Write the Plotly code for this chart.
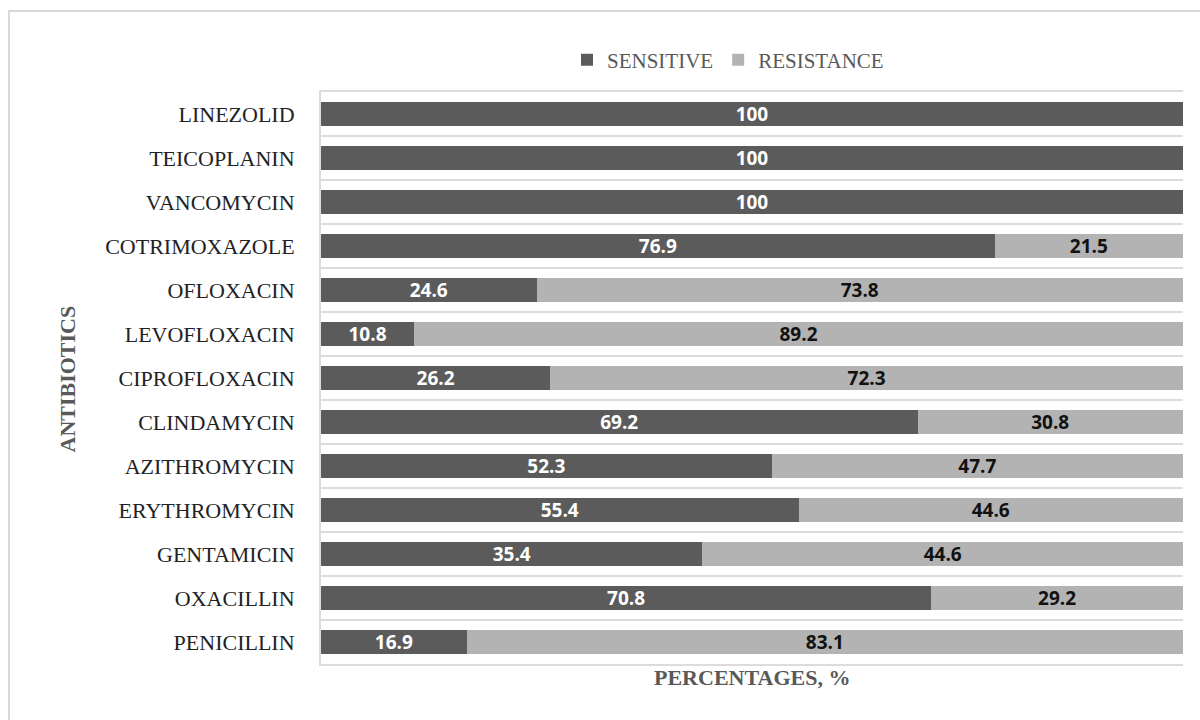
import plotly.graph_objects as go

# Antibiotic susceptibility (values in %), listed top to bottom
antibiotics = [
    "LINEZOLID", "TEICOPLANIN", "VANCOMYCIN", "COTRIMOXAZOLE", "OFLOXACIN",
    "LEVOFLOXACIN", "CIPROFLOXACIN", "CLINDAMYCIN", "AZITHROMYCIN",
    "ERYTHROMYCIN", "GENTAMICIN", "OXACILLIN", "PENICILLIN",
]
sensitive = [100, 100, 100, 76.9, 24.6, 10.8, 26.2, 69.2, 52.3, 55.4, 35.4, 70.8, 16.9]
resistance = [None, None, None, 21.5, 73.8, 89.2, 72.3, 30.8, 47.7, 44.6, 44.6, 29.2, 83.1]

W, H = 1200, 720
ML, MR, MT, MB = 321, 17, 92, 56

def px_x(x):
    return (x - ML) / (W - ML - MR)

def px_y(y):
    return (H - MB - y) / (H - MT - MB)

def fmt(v):
    return "" if v is None else ("%g" % v)

label_font = dict(family="Open Sans", size=19, color="white", weight="bold")

fig = go.Figure()
fig.add_trace(go.Bar(
    name="SENSITIVE", y=antibiotics, x=sensitive, orientation="h",
    marker=dict(color="#5b5b5b", line=dict(width=0)),
    text=[fmt(v) for v in sensitive], textposition="inside",
    insidetextanchor="middle", textangle=0, constraintext="none",
    textfont=label_font, hoverinfo="x+y",
))
fig.add_trace(go.Bar(
    name="RESISTANCE", y=antibiotics, x=resistance, orientation="h",
    marker=dict(color="#b3b3b3", line=dict(width=0)),
    text=[fmt(v) for v in resistance], textposition="inside",
    insidetextanchor="middle", textangle=0, constraintext="none",
    textfont=dict(label_font, color="#111111"), hoverinfo="x+y",
))

fig.update_layout(
    width=W, height=H,
    barmode="stack", barnorm="percent", bargap=0.45,
    margin=dict(l=ML, r=MR, t=MT, b=MB),
    paper_bgcolor="white", plot_bgcolor="white",
    legend=dict(
        orientation="h", x=px_x(728), xanchor="center", y=px_y(60), yanchor="middle",
        font=dict(family="Liberation Serif", size=21, color="#595959"),
        itemwidth=30, traceorder="normal",
    ),
    xaxis=dict(
        range=[0, 100], showticklabels=False, showgrid=False, zeroline=False,
        showline=True, mirror=True, linecolor="#dcdcdc", linewidth=2,
        fixedrange=True,
    ),
    yaxis=dict(
        autorange="reversed", tickson="boundaries", showgrid=True,
        gridcolor="#dcdcdc", gridwidth=2, showline=True, linecolor="#dcdcdc",
        linewidth=2, ticks="", ticklabelstandoff=20,
        tickfont=dict(family="Liberation Serif", size=22, color="#222222"),
    ),
    annotations=[
        dict(text="ANTIBIOTICS", textangle=-90, x=px_x(52), y=px_y(379),
             xref="paper", yref="paper", showarrow=False,
             font=dict(family="Liberation Serif", size=22, color="#595959", weight="bold")),
        dict(text="PERCENTAGES, %", x=px_x(752), y=px_y(692),
             xref="paper", yref="paper", showarrow=False,
             font=dict(family="Liberation Serif", size=22, color="#595959", weight="bold")),
    ],
    shapes=[
        dict(type="rect", xref="paper", yref="paper", layer="below",
             x0=px_x(9), x1=px_x(1210), y0=px_y(11), y1=px_y(730),
             line=dict(color="#d9d9d9", width=2), fillcolor="rgba(0,0,0,0)"),
    ],
)

fig.write_html("out.html")
